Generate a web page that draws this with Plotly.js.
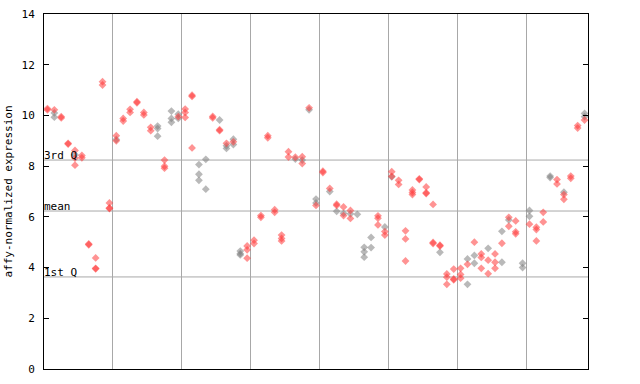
<!DOCTYPE html>
<html>
<head>
<meta charset="utf-8">
<script src="https://cdn.plot.ly/plotly-3.0.1.min.js"></script>
<style>html,body{margin:0;padding:0;background:#fff}#chart{width:640px;height:384px}</style>
</head>
<body>
<div id="chart"></div>
<script>
// Sample index (1..79) and expression value for each replicate, split by colour group
const redSample = [
 1,1, 2, 3,3, 4,4, 5,5,5, 6,6, 7,7, 8,8,8, 9,9, 10,10,10,
 11,11, 12,12, 13,13, 14,14, 15,15, 16,16, 18,18,18, 20, 21,21,21, 22,22,22,
 25,25, 26,26, 27, 28, 30,30,30, 31,31, 32,32, 33,33, 34,34, 35,35,35, 36,36, 37, 38,38, 39, 40,
 41,41, 42, 43,43, 44,44, 45,45, 49,49,49, 50,50,
 51,51, 52,52, 53,53,53, 54,54,54, 55,55, 56,56,56, 57,57,57, 58,58, 59,59,59, 60,60,60,
 61,61,61, 62, 63, 64,64,64, 65,65, 66,66,66, 67, 68,68, 69,69,69, 71, 72,72,72, 73,73, 75,75, 76,76, 77,77, 78,78, 79
];
const redValue = [
 10.27,10.22, 10.22, 9.95,9.9, 8.9,8.87, 8.62,8.32,8.04, 8.42,8.33, 4.93,4.9, 4.38,3.97,3.95, 11.33,11.2, 6.55,6.35,6.33,
 9.2,9.0, 9.88,9.78, 10.24,10.12, 10.54,10.5, 10.12,10.02, 9.53,9.4, 8.24,8.0,7.92, 9.95, 10.25,10.12,9.92, 10.8,10.75,8.72,
 9.96,9.9, 9.44,9.4, 8.9, 8.96, 4.85,4.7,4.37, 5.08,4.95, 6.05,5.98, 9.2,9.12, 6.28,6.18, 5.28,5.15,5.05, 8.57,8.36, 8.35, 8.37,8.1, 10.3, 6.45,
 7.8,7.75, 7.12, 6.5,6.45, 6.39,6.05, 6.25,5.94, 6.04,5.95,5.68, 5.42,5.28,
 7.78,7.6, 7.44,7.28, 5.45,5.13,4.26, 7.06,6.96,6.88, 7.5,7.47, 7.18,6.95,6.92, 6.49,4.99,4.95, 4.88,4.85, 3.75,3.62,3.34, 3.94,3.55,3.52,
 3.97,3.73,3.58, 4.13, 5.0, 4.54,4.4,3.97, 4.29,3.76, 4.54,4.21,3.97, 4.96, 5.98,5.63, 5.84,5.41,5.33, 5.71, 5.59,5.5,5.05, 6.18,5.8, 7.47,7.3, 6.88,6.69, 7.61,7.52, 9.6,9.5, 9.82
];
const graySample = [
 2,2, 5, 11, 17,17,17, 19,19,19, 20,20, 23,23,23, 24,24, 26, 27,27, 28,28, 29,29,29,
 37, 38, 39, 40,40, 42, 43, 44, 45, 46, 47,47,47, 48,48, 50, 51,
 58, 62,62, 63,63, 65, 67,67, 68, 70,70, 71,71, 74,74, 76, 79,79
];
const grayValue = [
 10.1,9.93, 8.45, 9.05, 9.58,9.48,9.18, 10.17,9.88,9.73, 10.05,9.88, 8.06,7.68,7.44, 8.27,7.09, 9.82, 8.8,8.7, 9.06,8.85, 4.65,4.55,4.5,
 8.28, 8.24, 10.22, 6.7,6.55, 7.0, 6.22, 6.14, 6.12, 6.1, 4.8,4.62,4.41, 5.19,4.79, 5.6, 7.58,
 4.6, 4.34,3.34, 4.48,4.17, 4.76, 5.43,4.21, 5.88, 4.17,4.0, 6.25,6.02, 7.61,7.55, 6.97, 10.08,9.95
];
// Reference levels
const quartileNames = ["3rd Q", "mean", "1st Q"];
const quartileValues = [8.24, 6.23, 3.63];
const groupBreaks = [10.5, 20.5, 30.5, 40.5, 50.5, 60.5, 70.5];
const sampleCount = 79;
const yTicks = [0, 2, 4, 6, 8, 10, 12, 14];

const mono = "DejaVu Sans Mono, monospace";
const gridGray = "#a8a8a8";

const traces = [
  {x: graySample, y: grayValue, type: "scatter", mode: "markers", hoverinfo: "skip",
   marker: {symbol: "diamond", size: 6, color: "#808080", opacity: 0.55, line: {width: 0}}},
  {x: redSample, y: redValue, type: "scatter", mode: "markers", hoverinfo: "skip",
   marker: {symbol: "diamond", size: 6, color: "#ff3a3a", opacity: 0.55, line: {width: 0}}},
  // invisible trace to carry the right-hand axis with inward ticks
  {x: [1], y: [0], yaxis: "y2", type: "scatter", mode: "markers", hoverinfo: "skip",
   marker: {opacity: 0}, showlegend: false}
];

const shapes = quartileValues.map(v => ({
  type: "line", xref: "paper", x0: 0, x1: 1, yref: "y", y0: v, y1: v,
  line: {color: gridGray, width: 1}, layer: "below"
}));

const annotations = quartileNames.map((t, i) => ({
  text: t, xref: "paper", x: 0, xanchor: "left", yref: "y", y: quartileValues[i],
  yanchor: "bottom", showarrow: false, borderpad: 0, yshift: -3, xshift: -1,
  font: {family: mono, size: 11, color: "#000"}
}));

const layout = {
  width: 640, height: 384,
  margin: {l: 44, r: 52, t: 14, b: 15},
  paper_bgcolor: "#fff", plot_bgcolor: "#fff",
  showlegend: false,
  xaxis: {
    range: [0.5, sampleCount + 0.5], tickmode: "array", tickvals: groupBreaks,
    showticklabels: false, ticks: "", showgrid: true, gridcolor: gridGray, gridwidth: 1,
    zeroline: false, showline: true, linecolor: "#000", linewidth: 1, mirror: true, fixedrange: true
  },
  yaxis: {
    range: [0, 14], tickmode: "array", tickvals: yTicks, ticks: "inside", ticklen: 5,
    tickcolor: "#000", showgrid: false, zeroline: false, showline: true, linecolor: "#000",
    linewidth: 1, mirror: true, tickfont: {family: mono, size: 11, color: "#000"},
    ticklabelstandoff: 6,
    title: {text: "affy-normalized expression", font: {family: mono, size: 11, color: "#000"}, standoff: 6},
    fixedrange: true
  },
  yaxis2: {
    range: [0, 14], overlaying: "y", side: "right", tickmode: "array", tickvals: yTicks,
    ticks: "inside", ticklen: 5, tickcolor: "#000", showticklabels: false, showgrid: false,
    zeroline: false, showline: false, fixedrange: true
  },
  shapes: shapes,
  annotations: annotations
};

Plotly.newPlot("chart", traces, layout, {staticPlot: true, displayModeBar: false});
</script>
</body>
</html>
